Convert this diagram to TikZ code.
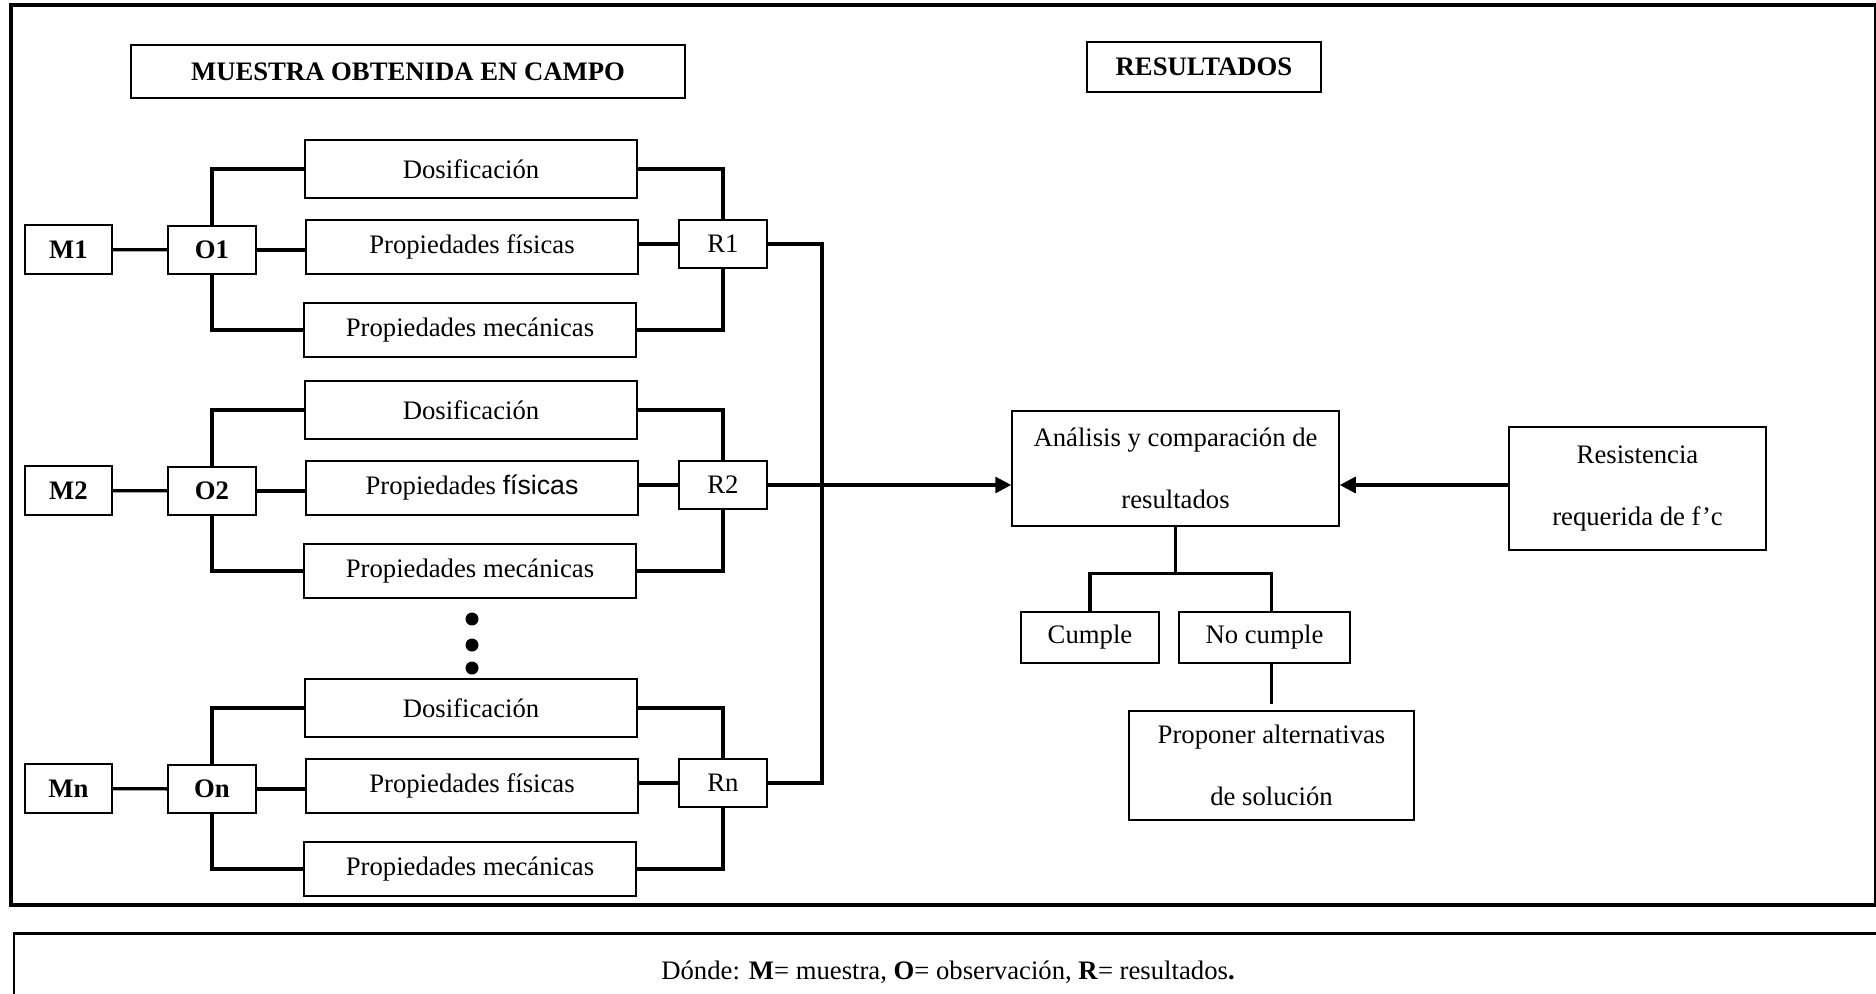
\documentclass[tikz,border=0pt]{standalone}
\usepackage{fontspec}
\setmainfont{Liberation Serif}
\newfontfamily\arialfont{Liberation Sans}
\usetikzlibrary{arrows.meta}
\begin{document}
\begin{tikzpicture}[x=1pt,y=-1pt,
  txt/.style={font=\fontsize{26.7}{62}\selectfont},
  negrita/.style={font=\fontsize{26.7}{62}\selectfont\bfseries},
  caja/.style={draw, line width=1.5pt, inner sep=0pt, align=center, txt},
  mbox/.style={caja, negrita, minimum width=87pt, minimum height=49pt},
  obox/.style={caja, negrita, minimum width=88pt, minimum height=48pt},
  rbox/.style={caja, minimum width=88pt, minimum height=48pt},
  ancha/.style={caja, minimum width=332pt},
  conn/.style={line width=3.3pt},
  punta/.style={-{Triangle[length=16pt,width=16pt]}},
]
\useasboundingbox (0,0) rectangle (1876,993);
\clip (0,0) rectangle (1876,993);

% marco exterior y recuadro de la nota
\draw[line width=4pt] (11,5.3) rectangle (1875.5,904.5);
\draw[line width=2.5pt] (1880,933.5) -- (14,933.5) -- (14,1000);

% encabezados
\node[caja, negrita, minimum width=554pt, minimum height=53pt] (titM) at (408,71.5) {MUESTRA OBTENIDA EN CAMPO};
\node[caja, negrita, minimum width=234pt, minimum height=50pt] (titR) at (1204,67) {RESULTADOS};

% grupos de muestras
\foreach \g/\yc/\fis in {1/247/{físicas}, 2/488/{\arialfont físicas}, n/786/{físicas}}{
  \node[mbox] (M\g) at (68.5,\yc+2.5) {M\g};
  \node[obox] (O\g) at (212,\yc+3) {O\g};
  \node[ancha, minimum height=58pt] (D\g) at (471,\yc-78) {Dosificación};
  \node[ancha, minimum height=54pt] (F\g) at (472,\yc) {Propiedades \fis};
  \node[ancha, minimum height=54pt] (P\g) at (470,\yc+83) {Propiedades mecánicas};
  \node[rbox] (R\g) at (723,\yc-3) {R\g};
  \draw[conn] (M\g) -- (O\g);
  \draw[conn] (O\g.east) -- (O\g.east -| F\g.west);
  \draw[conn] (O\g.north) |- (D\g.west);
  \draw[conn] (O\g.south) |- (P\g.west);
  \draw[conn] (D\g.east) -| (R\g.north);
  \draw[conn] (P\g.east) -| (R\g.south);
  \draw[conn] (R\g.west -| F\g.east) -- (R\g.west);
}

% puntos suspensivos entre grupos
\foreach \yy in {619,645,668} \fill (472,\yy) circle[radius=6.5pt];

% bloque de resultados
\node[caja, minimum width=327pt, minimum height=115pt] (ana) at (1175.5,468.5) {Análisis y comparación de\\resultados};
\node[caja, minimum width=257pt, minimum height=123pt] (res) at (1637.5,488.5) {Resistencia\\requerida de f’c};
\node[caja, minimum width=138pt, minimum height=51pt] (cum) at (1090,637.5) {Cumple};
\node[caja, minimum width=171pt, minimum height=51pt] (noc) at (1264.5,637.5) {No cumple};
\node[caja, minimum width=285pt, minimum height=109pt] (prop) at (1271.5,765.5) {Proponer alternativas\\de solución};

% colector de resultados
\coordinate (b1) at (822,244);
\coordinate (bn) at (822,783);
\draw[conn] (R1.east) -- (b1) -- (bn) -- (Rn.east);

% flechas hacia el análisis
\draw[conn, punta] (R2.east) -- (R2.east -| ana.west);
\draw[conn, punta] (R2.east -| res.west) -- (R2.east -| ana.east);

% ramificación cumple / no cumple
\draw[conn] (ana.south) -- ++(0,47) coordinate (sp);
\draw[conn] (cum.north) |- (sp) -| (prop.north |- noc.north);
\draw[conn, shorten >=6pt] (prop.north |- noc.south) -- (prop.north);

% nota
\node[txt] (nota) at (948,972) {Dónde: \textbf{M}= muestra, \textbf{O}= observación, \textbf{R}= resultados\textbf{.}};
\end{tikzpicture}
\end{document}
